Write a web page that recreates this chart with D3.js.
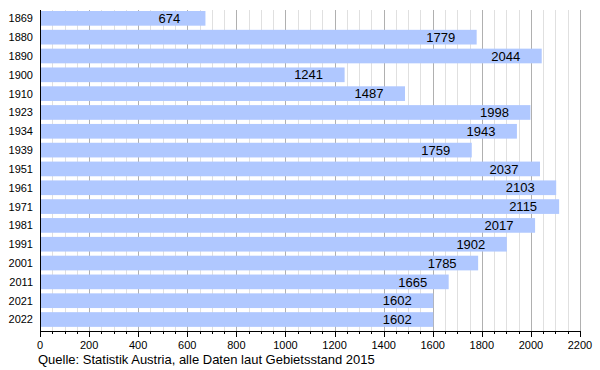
<!DOCTYPE html>
<html>
<head>
<meta charset="utf-8">
<script src="https://cdn.jsdelivr.net/npm/d3@7"></script>
<style>
  body { margin: 0; background: #fff; }
  text { font-family: "Liberation Sans", Arial, sans-serif; fill: #000; }
</style>
</head>
<body>
<div class="chart"></div>
<script>
(function() {

  // census years and population
  var years = ['1869', '1880', '1890', '1900', '1910', '1923', '1934', '1939', '1951',
               '1961', '1971', '1981', '1991', '2001', '2011', '2021', '2022'];
  var population = [674, 1779, 2044, 1241, 1487, 1998, 1943, 1759, 2037,
                    2103, 2115, 2017, 1902, 1785, 1665, 1602, 1602];
  var xTicks = [0, 200, 400, 600, 800, 1000, 1200, 1400, 1600, 1800, 2000, 2200];
  var source = 'Quelle: Statistik Austria, alle Daten laut Gebietsstand 2015';

  var data = years.map(function(y, i) { return { year: y, value: population[i] }; });

  var svg = d3.select('.chart')
    .append('svg')
    .attr('width', 600)
    .attr('height', 370);

  var x = d3.scaleLinear().domain([0, 2200]).range([40, 580]);
  var y = d3.scaleBand().domain(years).range([10, 330]).padding(0);

  var minor = d3.range(0, 2201, 50);

  // gridlines
  svg.append('g').selectAll('line').data(minor).enter()
    .append('line')
    .attr('x1', function(d) { return Math.round(x(d)) + 0.5; })
    .attr('x2', function(d) { return Math.round(x(d)) + 0.5; })
    .attr('y1', 10)
    .attr('y2', 331)
    .attr('stroke', function(d) { return d % 200 === 0 ? '#b0b0b0' : '#e0e0e0'; })
    .attr('stroke-width', 1);

  // bars
  svg.append('g').selectAll('rect').data(data).enter()
    .append('rect')
    .attr('x', x(0))
    .attr('y', function(d) { return y(d.year) + 1; })
    .attr('width', function(d) { return x(d.value) - x(0); })
    .attr('height', y.bandwidth() * 0.78)
    .attr('fill', '#b0c8ff');

  // value labels
  svg.append('g').selectAll('text').data(data).enter()
    .append('text')
    .attr('x', function(d) { return x(d.value) - 36; })
    .attr('y', function(d) { return y(d.year) + 1 + y.bandwidth() * 0.39; })
    .attr('dy', '0.36em')
    .attr('text-anchor', 'middle')
    .style('font-size', '13px')
    .text(function(d) { return d.value; });

  // year labels
  svg.append('g').selectAll('text').data(data).enter()
    .append('text')
    .attr('x', 33)
    .attr('y', function(d) { return y(d.year) + 1 + y.bandwidth() * 0.39; })
    .attr('dy', '0.36em')
    .attr('text-anchor', 'end')
    .style('font-size', '11px')
    .text(function(d) { return d.year; });

  // left axis line
  svg.append('line')
    .attr('x1', 40.5).attr('x2', 40.5)
    .attr('y1', 10).attr('y2', 331)
    .attr('stroke', '#000');

  // bottom axis
  svg.append('line')
    .attr('x1', 40).attr('x2', 581)
    .attr('y1', 331.5).attr('y2', 331.5)
    .attr('stroke', '#000');

  svg.append('g').selectAll('line').data(minor).enter()
    .append('line')
    .attr('x1', function(d) { return Math.round(x(d)) + 0.5; })
    .attr('x2', function(d) { return Math.round(x(d)) + 0.5; })
    .attr('y1', 331)
    .attr('y2', function(d) { return d % 200 === 0 ? 337 : 334; })
    .attr('stroke', '#000');

  svg.append('g').selectAll('text').data(xTicks).enter()
    .append('text')
    .attr('x', function(d) { return x(d); })
    .attr('y', 349)
    .attr('text-anchor', 'middle')
    .style('font-size', '11px')
    .text(function(d) { return d; });

  svg.append('text')
    .attr('x', 38)
    .attr('y', 364)
    .style('font-size', '13px')
    .text(source);

})();
</script>
</body>
</html>
